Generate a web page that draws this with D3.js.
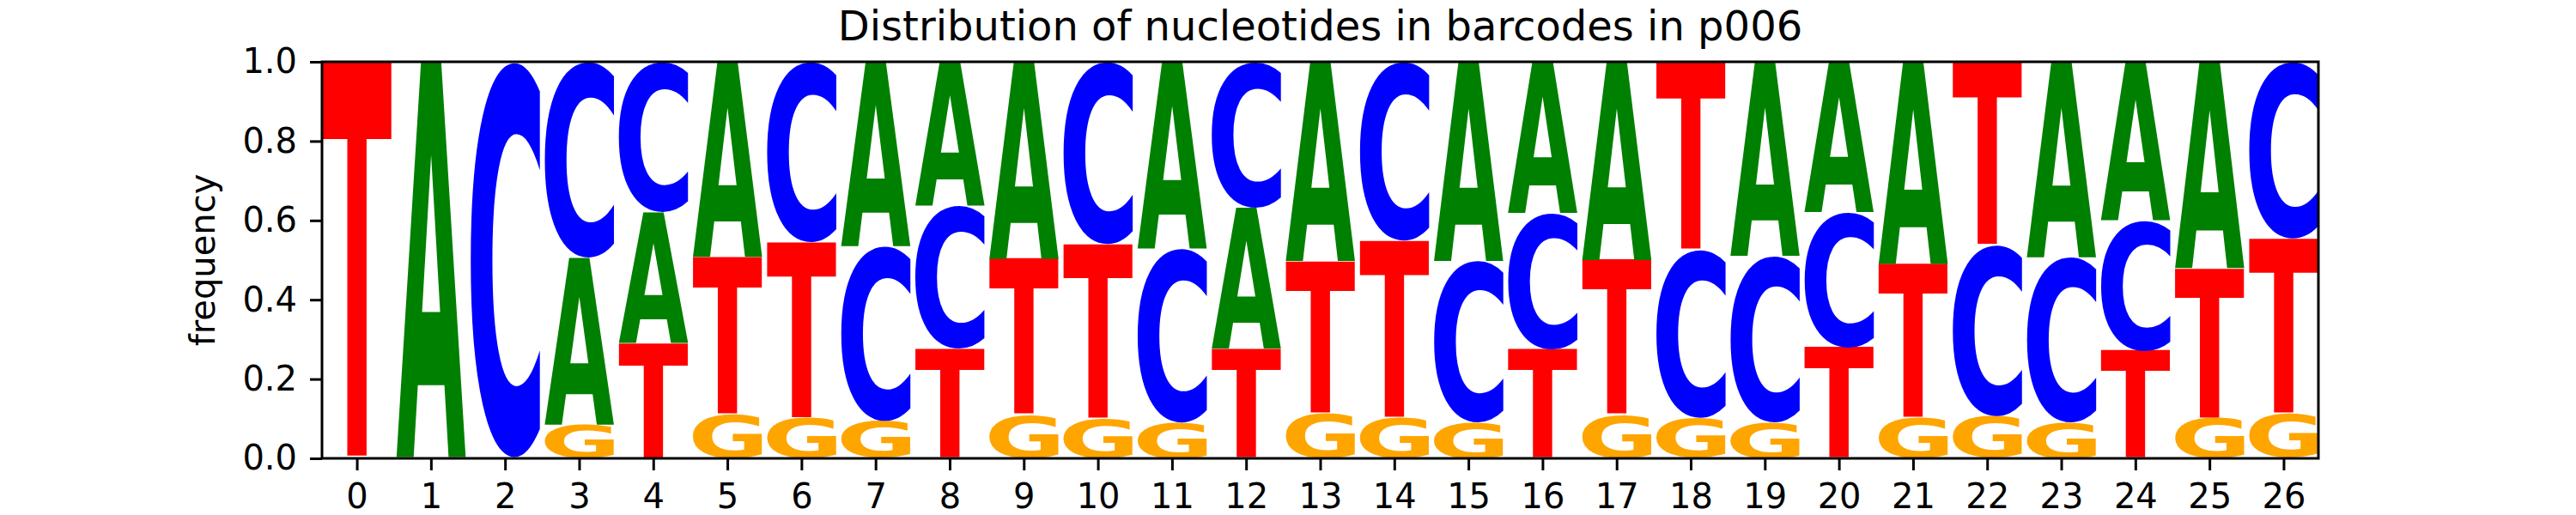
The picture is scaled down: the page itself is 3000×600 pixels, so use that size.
<!DOCTYPE html>
<html>
<head>
<meta charset="utf-8">
<script src="https://cdn.jsdelivr.net/npm/d3@7"></script>
<style>
  body { margin: 0; background: #fff; }
  svg text { font-family: "DejaVu Sans", sans-serif; }
</style>
</head>
<body>
<svg class="chart"></svg>
<script>
// barcode positions and per-position nucleotide frequencies
const positions = [0, 1, 2, 3, 4, 5, 6, 7, 8, 9, 10, 11, 12, 13, 14, 15, 16, 17, 18, 19, 20, 21, 22, 23, 24, 25, 26];
const freqA = [0, 0.997, 0.002, 0.421, 0.331, 0.492, 0, 0.465, 0.363, 0.497, 0, 0.471, 0.356, 0.502, 0, 0.502, 0.382, 0.500, 0.002, 0.489, 0.379, 0.510, 0.002, 0.493, 0.399, 0.520, 0.002];
const freqC = [0, 0, 0.998, 0.494, 0.379, 0, 0.455, 0.441, 0.361, 0, 0.460, 0.439, 0.368, 0, 0.451, 0.407, 0.344, 0, 0.424, 0.420, 0.341, 0, 0.432, 0.416, 0.330, 0, 0.446];
const freqG = [0, 0, 0, 0.085, 0, 0.110, 0.101, 0.094, 0, 0.109, 0.100, 0.090, 0, 0.115, 0.102, 0.091, 0, 0.109, 0.100, 0.091, 0, 0.102, 0.104, 0.091, 0, 0.102, 0.111];
const freqT = [1.0, 0.003, 0, 0, 0.290, 0.398, 0.444, 0, 0.276, 0.394, 0.440, 0, 0.276, 0.383, 0.447, 0, 0.274, 0.391, 0.474, 0, 0.280, 0.388, 0.462, 0, 0.271, 0.378, 0.441];
const yTicks = [0, 0.2, 0.4, 0.6, 0.8, 1.0];
const title = "Distribution of nucleotides in barcodes in p006";

const letters = ["A", "C", "G", "T"];
const freqs = { A: freqA, C: freqC, G: freqG, T: freqT };
const colors = { A: "green", C: "blue", G: "orange", T: "red" };

const width = 3000;
const height = 600;
const marginLeft = 375, marginRight = 300, marginTop = 72, marginBottom = 66;
const glyphWidth = 0.94;

const x = d3.scaleLinear()
  .domain([-glyphWidth / 2, positions.length - 1 + glyphWidth / 2])
  .range([marginLeft, width - marginRight]);

const y = d3.scaleLinear()
  .domain([0, 1])
  .range([height - marginBottom, marginTop]);

const svg = d3.select("svg.chart")
  .attr("width", width)
  .attr("height", height)
  .attr("viewBox", `0 0 ${width} ${height}`);

// stack letters per position, smallest at the bottom
const glyphs = [];
positions.forEach((p, i) => {
  const col = letters.map(l => ({ letter: l, value: freqs[l][i] }))
    .sort((a, b) => d3.ascending(a.value, b.value));
  let floor = 0;
  col.forEach(d => {
    glyphs.push({ pos: p, letter: d.letter, y0: floor, y1: floor + d.value });
    floor += d.value;
  });
});

// tight glyph bounds so each letter can be stretched to fill its box
const fontSize = 200;
const ctx = document.createElement("canvas").getContext("2d");
ctx.font = `bold ${fontSize}px "DejaVu Sans"`;
const bounds = {};
letters.forEach(l => {
  const m = ctx.measureText(l);
  bounds[l] = {
    left: m.actualBoundingBoxLeft,
    right: m.actualBoundingBoxRight,
    ascent: m.actualBoundingBoxAscent,
    descent: m.actualBoundingBoxDescent
  };
});

svg.append("g")
  .selectAll("text")
  .data(glyphs.filter(d => d.y1 - d.y0 > 0))
  .join("text")
  .attr("font-size", fontSize)
  .attr("font-weight", "bold")
  .attr("fill", d => colors[d.letter])
  .attr("transform", d => {
    const b = bounds[d.letter];
    const bx0 = x(d.pos - glyphWidth / 2), bx1 = x(d.pos + glyphWidth / 2);
    const by0 = y(d.y1), by1 = y(d.y0);
    const sx = (bx1 - bx0) / (b.left + b.right);
    const sy = (by1 - by0) / (b.ascent + b.descent);
    return `translate(${bx0 + b.left * sx},${by0 + b.ascent * sy}) scale(${sx},${sy})`;
  })
  .text(d => d.letter);

// axes
svg.append("g")
  .attr("transform", `translate(0,${height - marginBottom})`)
  .call(d3.axisBottom(x).tickValues(positions).tickFormat(d3.format("d")).tickSize(14).tickPadding(16))
  .call(g => g.select(".domain").remove())
  .call(g => g.selectAll("line").attr("stroke-width", 3))
  .call(g => g.selectAll("text").attr("font-size", 40).attr("font-family", "DejaVu Sans"));

svg.append("g")
  .attr("transform", `translate(${marginLeft},0)`)
  .call(d3.axisLeft(y).tickValues(yTicks).tickFormat(d3.format(".1f")).tickSize(14).tickPadding(15))
  .call(g => g.select(".domain").remove())
  .call(g => g.selectAll("line").attr("stroke-width", 3))
  .call(g => g.selectAll("text").attr("font-size", 40).attr("font-family", "DejaVu Sans"));

// frame
svg.append("rect")
  .attr("x", marginLeft)
  .attr("y", marginTop)
  .attr("width", width - marginLeft - marginRight)
  .attr("height", height - marginTop - marginBottom)
  .attr("fill", "none")
  .attr("stroke", "black")
  .attr("stroke-width", 3);

svg.append("text")
  .attr("x", (marginLeft + width - marginRight) / 2)
  .attr("y", 47)
  .attr("text-anchor", "middle")
  .attr("font-size", 48)
  .text(title);

svg.append("text")
  .attr("transform", `translate(250,${(marginTop + height - marginBottom) / 2}) rotate(-90)`)
  .attr("text-anchor", "middle")
  .attr("font-size", 40)
  .text("frequency");
</script>
</body>
</html>
